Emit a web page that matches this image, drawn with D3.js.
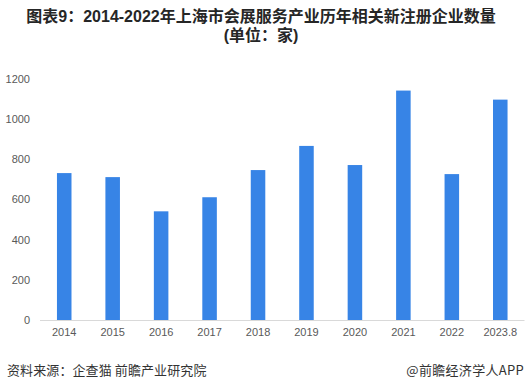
<!DOCTYPE html>
<html><head><meta charset="utf-8">
<script src="https://cdn.jsdelivr.net/npm/d3@7"></script>
<style>
html,body{margin:0;padding:0;background:#fff;}
svg{display:block;font-family:"Noto Sans CJK SC","Noto Sans",sans-serif;}
</style></head>
<body>
<svg id="chart" width="532" height="390"></svg>
<script>
const categories = ["2014","2015","2016","2017","2018","2019","2020","2021","2022","2023.8"];
const values = [730, 710, 540, 610, 745, 865, 770, 1140, 725, 1095];
const yTicks = [0, 200, 400, 600, 800, 1000, 1200];
const titleLines = ["图表9：2014-2022年上海市会展服务产业历年相关新注册企业数量", "(单位：家)"];
const sourceText = "资料来源：企查猫 前瞻产业研究院";
const brandText = "@前瞻经济学人APP";

const svg = d3.select("#chart");
const W = 532, H = 390;
const x = d3.scaleBand().domain(categories).range([40, 524.5]).paddingInner(0.7).paddingOuter(0.35);
const y = d3.scaleLinear().domain([0, 1200]).range([320, 78.5]);

// title
svg.append("g").selectAll("text").data(titleLines).join("text")
  .attr("x", W/2 - 5).attr("y", (d,i)=> 22 + i*19)
  .attr("text-anchor","middle")
  .attr("font-size", 16).attr("font-weight","bold")
  .attr("font-family", "Arial, 'Liberation Sans', 'Noto Sans CJK SC', sans-serif")
  .attr("fill","#262626").text(d=>d);

// y axis labels
const yAxis = d3.axisLeft(y).tickValues(yTicks).tickFormat(d3.format("d")).tickSize(0).tickPadding(0);
const gy = svg.append("g").attr("transform","translate(30,0)").call(yAxis);
gy.select(".domain").remove();
gy.selectAll("text").attr("font-size", 11).attr("fill","#595959")
  .attr("font-family","'Liberation Sans', Arial, sans-serif");

// bars
svg.append("g").selectAll("rect").data(values).join("rect")
  .attr("x",(d,i)=>x(categories[i]))
  .attr("width", x.bandwidth())
  .attr("y", d=>y(d))
  .attr("height", d=>y(0)-y(d))
  .attr("fill","#3784e6");

// x axis
const xAxis = d3.axisBottom(x).tickSize(0).tickPadding(8);
const gx = svg.append("g").attr("transform","translate(0,320)").call(xAxis);
gx.select(".domain").attr("stroke","#d9d9d9").attr("d","M40,0.5H524.5");
gx.selectAll("text").attr("font-size", 11).attr("fill","#595959")
  .attr("font-family","'Liberation Sans', Arial, sans-serif");

// footer
svg.append("text").attr("x",7).attr("y",375).attr("font-size",13).attr("fill","#333")
  .attr("letter-spacing", 0.1).text(sourceText);
svg.append("text").attr("x",524).attr("y",375).attr("text-anchor","end").attr("font-size",13).attr("fill","#333")
  .attr("letter-spacing", 0.3).text(brandText);
</script>
</body></html>
